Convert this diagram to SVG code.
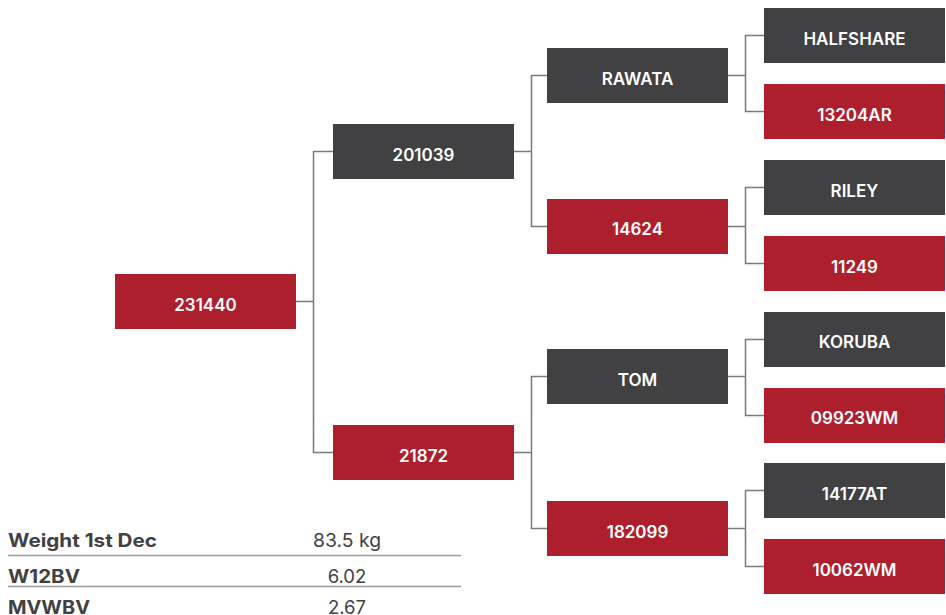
<svg xmlns="http://www.w3.org/2000/svg" width="946" height="615" viewBox="0 0 946 615">
<style>
.d{fill:#414042}
.r{fill:#ae1f2d}
.t{fill:#fff;font-family:Inter,"Noto Sans",sans-serif;font-weight:600;font-size:17px;text-anchor:middle}
.c{fill:none;stroke:#7a7a7a;stroke-width:1.5}
.lb{fill:#414042;font-family:Inter,"Noto Sans",sans-serif;font-weight:700;font-size:18.5px}
.v{fill:#414042;font-family:Inter,"Noto Sans",sans-serif;font-weight:400;font-size:18.5px;text-anchor:middle}
.ln{stroke:#9a9a9a;stroke-width:1.5}
</style>
<rect width="946" height="615" fill="#fff"/>
<g id="connectors">
<path class="c" d="M296 301.5H313.5M333 151.5H313.5V452.5H333"/>
<path class="c" d="M514 151.5H531.5M547 75.5H531.5V226.5H547"/>
<path class="c" d="M514 452.5H531.5M547 376.5H531.5V528.5H547"/>
<path class="c" d="M728 75.5H745.5M764 35.5H745.5V111.5H764"/>
<path class="c" d="M728 226.5H745.5M764 187.5H745.5V263.5H764"/>
<path class="c" d="M728 376.5H745.5M764 339.5H745.5V415.5H764"/>
<path class="c" d="M728 528.5H745.5M764 490.5H745.5V566.5H764"/>
</g>
<g id="n231440"><rect class="r" x="115" y="274" width="181" height="55"/><text class="t" x="205.5" y="311">231440</text></g>
<g id="n201039"><rect class="d" x="333" y="124" width="181" height="55"/><text class="t" x="423.5" y="161">201039</text></g>
<g id="n21872"><rect class="r" x="333" y="425" width="181" height="55"/><text class="t" x="423.5" y="462">21872</text></g>
<g id="nRAWATA"><rect class="d" x="547" y="48" width="181" height="55"/><text class="t" x="637.5" y="85">RAWATA</text></g>
<g id="n14624"><rect class="r" x="547" y="199" width="181" height="55"/><text class="t" x="637.5" y="235">14624</text></g>
<g id="nTOM"><rect class="d" x="547" y="349" width="181" height="55"/><text class="t" x="637.5" y="386">TOM</text></g>
<g id="n182099"><rect class="r" x="547" y="501" width="181" height="55"/><text class="t" x="637.5" y="538">182099</text></g>
<g id="nHALFSHARE"><rect class="d" x="764" y="8" width="181" height="55"/><text class="t" x="854.5" y="45">HALFSHARE</text></g>
<g id="n13204AR"><rect class="r" x="764" y="84" width="181" height="55"/><text class="t" x="854.5" y="121">13204AR</text></g>
<g id="nRILEY"><rect class="d" x="764" y="160" width="181" height="55"/><text class="t" x="854.5" y="197">RILEY</text></g>
<g id="n11249"><rect class="r" x="764" y="236" width="181" height="55"/><text class="t" x="854.5" y="273">11249</text></g>
<g id="nKORUBA"><rect class="d" x="764" y="312" width="181" height="55"/><text class="t" x="854.5" y="348">KORUBA</text></g>
<g id="n09923WM"><rect class="r" x="764" y="388" width="181" height="55"/><text class="t" x="854.5" y="424">09923WM</text></g>
<g id="n14177AT"><rect class="d" x="764" y="463" width="181" height="55"/><text class="t" x="854.5" y="500">14177AT</text></g>
<g id="n10062WM"><rect class="r" x="764" y="539" width="181" height="55"/><text class="t" x="854.5" y="576">10062WM</text></g>
<g id="table">
<text class="lb" x="8" y="547" textLength="149" lengthAdjust="spacingAndGlyphs">Weight 1st Dec</text>
<text class="v" x="347" y="547" textLength="68" lengthAdjust="spacingAndGlyphs">83.5 kg</text>
<line class="ln" x1="8" y1="555.5" x2="461" y2="555.5"/>
<text class="lb" x="8" y="583" textLength="72" lengthAdjust="spacingAndGlyphs">W12BV</text>
<text class="v" x="347" y="583">6.02</text>
<line class="ln" x1="8" y1="586.5" x2="461" y2="586.5"/>
<text class="lb" x="8" y="614" textLength="82" lengthAdjust="spacingAndGlyphs">MVWBV</text>
<text class="v" x="347" y="614">2.67</text>
</g>
</svg>
